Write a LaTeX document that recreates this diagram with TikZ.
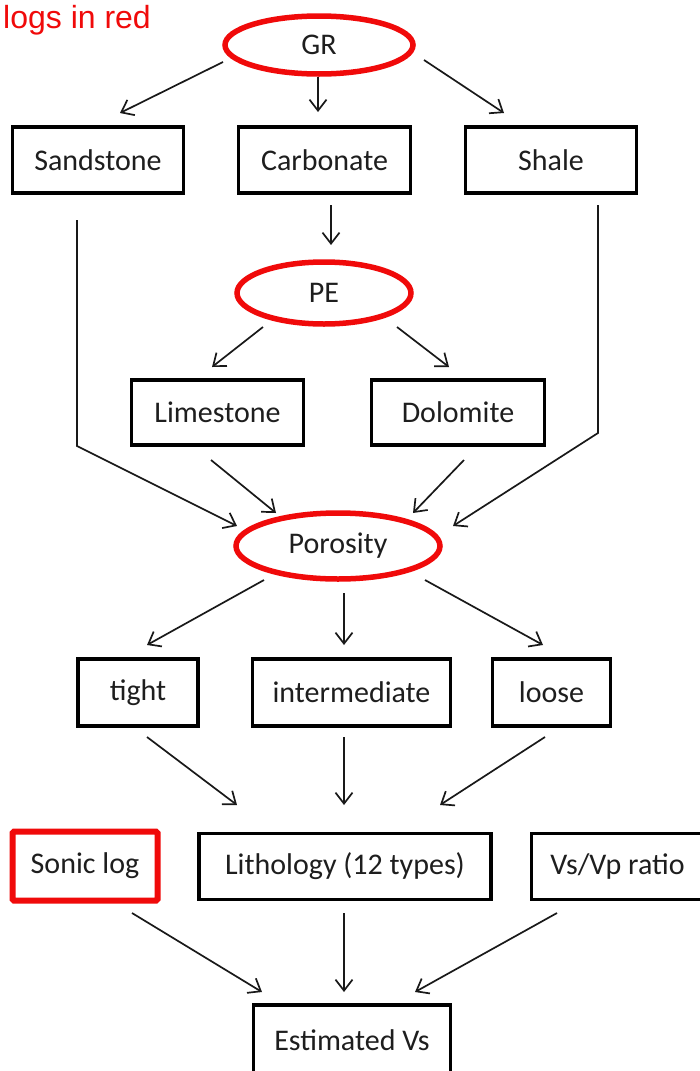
\documentclass[tikz,border=0pt]{standalone}
\usepackage{fontspec}
\setmainfont{Carlito}
\newfontfamily\arialf{Liberation Sans}
\usetikzlibrary{shapes.geometric,arrows.meta}
\definecolor{logred}{RGB}{240,10,10}
\definecolor{txtgray}{RGB}{30,30,30}
\tikzset{
  lbl/.style={font=\fontsize{30}{36}\selectfont, text=txtgray},
  box/.style={lbl, draw=black, line width=3.6pt, inner sep=0pt, rectangle},
  logell/.style={lbl, draw=logred, line width=5.5pt, ellipse, inner sep=0pt},
  logbox/.style={lbl, draw=logred, line width=6pt, inner sep=0pt, rectangle, rounded corners=1.5pt},
  arr/.style={draw=black!90, line width=1.7pt, -{Straight Barb[length=11pt,width=17pt,line width=1.7pt]}},
}
\begin{document}
\begin{tikzpicture}[x=1pt,y=-1pt]
\useasboundingbox (0,0) rectangle (700,1071);
\clip (0,0) rectangle (700,1071);
\fill[white] (0,0) rectangle (700,1071);

\node[anchor=base west, inner sep=0pt, font=\arialf\fontsize{32}{38}\selectfont, text=logred] (title) at (3,28) {logs in red};

\node[logell, minimum width=188, minimum height=58] (GR) at (319,45) {GR};

\node[box, minimum width=171, minimum height=66] (Sand) at (98,160) {Sandstone};
\node[box, minimum width=172, minimum height=66] (Carb) at (324.5,160) {Carbonate};
\node[box, minimum width=171, minimum height=66] (Shale) at (551,160) {Shale};

\node[logell, minimum width=174, minimum height=62] (PE) at (324,293) {PE};

\node[box, minimum width=172, minimum height=65] (Lime) at (217.5,412.5) {Limestone};
\node[box, minimum width=173, minimum height=65] (Dolo) at (458,412.5) {Dolomite};

\node[logell, minimum width=204, minimum height=66] (Poro) at (338,546) {Porosity};

\node[box, minimum width=120, minimum height=67] (tight) at (138,692.5) {tight};
\node[box, minimum width=198, minimum height=67] (inter) at (351.5,692.5) {intermediate};
\node[box, minimum width=118, minimum height=67] (loose) at (551.5,692.5) {loose};

\node[logbox, minimum width=145, minimum height=69] (sonic) at (85,866) {Sonic log};
\node[box, minimum width=292, minimum height=66] (litho) at (345,866.5) {Lithology (12 types)};
\node[box, minimum width=172, minimum height=66] (vsvp) at (617.5,866.5) {Vs/Vp ratio};

\node[box, minimum width=197, minimum height=70] (est) at (352,1040) {Estimated Vs};

% GR arrows
\draw[arr] ([shift={(-96,17)}]GR.center) -- ([shift={(22,-47)}]Sand.center);
\draw[arr] ([shift={(-1,32)}]GR.center) -- ([shift={(-6.5,-48)}]Carb.center);
\draw[arr] ([shift={(105,15)}]GR.center) -- ([shift={(-47,-47)}]Shale.center);
% Carbonate -> PE
\draw[arr] ([shift={(6.5,45)}]Carb.center) -- ([shift={(7,-48)}]PE.center);
% PE arrows
\draw[arr] ([shift={(-61,34)}]PE.center) -- ([shift={(-5.5,-45.5)}]Lime.center);
\draw[arr] ([shift={(73,34)}]PE.center) -- ([shift={(-9,-45.5)}]Dolo.center);
% into Porosity
\draw[arr] ([shift={(-21,60)}]Sand.center) -- ++(0,226) -- ([shift={(-101,-20)}]Poro.center);
\draw[arr] ([shift={(-6.5,47.5)}]Lime.center) -- ([shift={(-62,-33)}]Poro.center);
\draw[arr] ([shift={(6,47.5)}]Dolo.center) -- ([shift={(75,-33)}]Poro.center);
\draw[arr] ([shift={(47,45)}]Shale.center) -- ++(0,228) -- ([shift={(115,-20)}]Poro.center);
% Porosity arrows
\draw[arr] ([shift={(-74,34)}]Poro.center) -- ([shift={(9,-47.5)}]tight.center);
\draw[arr] ([shift={(6,47)}]Poro.center) -- ([shift={(-7.5,-47.5)}]inter.center);
\draw[arr] ([shift={(87,34)}]Poro.center) -- ([shift={(-8.5,-47.5)}]loose.center);
% into Lithology
\draw[arr] ([shift={(9,44.5)}]tight.center) -- ([shift={(-108,-61.5)}]litho.center);
\draw[arr] ([shift={(-7.5,44.5)}]inter.center) -- ([shift={(-1,-61.5)}]litho.center);
\draw[arr] ([shift={(-6.5,44.5)}]loose.center) -- ([shift={(95,-61.5)}]litho.center);
% into Estimated Vs
\draw[arr] ([shift={(47,47)}]sonic.center) -- ([shift={(-90,-48)}]est.center);
\draw[arr] ([shift={(-1,46.5)}]litho.center) -- ([shift={(-8,-48)}]est.center);
\draw[arr] ([shift={(-60.5,46.5)}]vsvp.center) -- ([shift={(63,-48)}]est.center);
\end{tikzpicture}
\end{document}
